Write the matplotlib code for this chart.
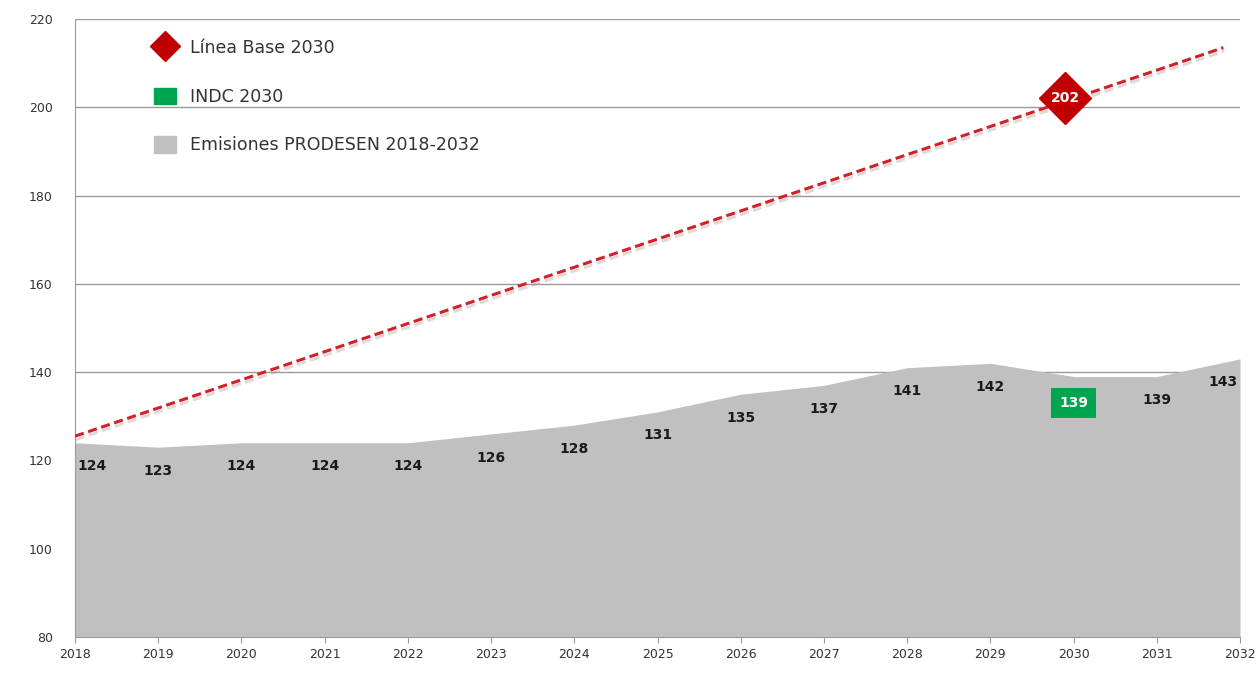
import matplotlib
matplotlib.use("Agg")
import matplotlib.pyplot as plt
import matplotlib.patheffects as pe
from matplotlib.lines import Line2D
from matplotlib.patches import Patch

years = list(range(2018, 2033))
emisiones = [124, 123, 124, 124, 124, 126, 128, 131, 135, 137, 141, 142, 139, 139, 143]
linea_base_years = [2018, 2031.8]
linea_base = [125.5, 213.5]
lb_year, lb_value = 2029.9, 202
indc_year, indc_value = 2030, 139

red = "#c00000"
green = "#00a550"
gray_area = "#c0c0c0"


def main():
    fig = plt.figure(figsize=(12.57, 6.73), dpi=100)
    ax = fig.add_axes([0.0597, 0.0535, 0.9268, 0.9183])

    ax.fill_between(years, 80, emisiones, color=gray_area, lw=0, zorder=2)
    for y in range(100, 221, 20):
        ax.axhline(y, color="#9a9a9a", lw=1, zorder=1)

    ax.plot(linea_base_years, linea_base, color="#d0202a", lw=2.2, ls=(0, (3, 1.5)),
            zorder=4, solid_capstyle="butt",
            path_effects=[pe.SimpleLineShadow(offset=(0.5, -2.5), shadow_color="#b09090", alpha=0.35),
                          pe.Normal()])

    ax.plot([lb_year], [lb_value], marker="D", ms=26, color=red, mec=red, ls="none", zorder=5)
    ax.text(lb_year, lb_value, str(lb_value), color="white", fontsize=10, fontweight="bold",
            ha="center", va="center", zorder=6)

    for i, (x, v) in enumerate(zip(years, emisiones)):
        if x == indc_year:
            continue
        ha = "center"
        dx = 0
        if i == 0:
            dx = 2
            ha = "left"
        elif i == len(years) - 1:
            dx = -2
            ha = "right"
        ax.annotate(str(v), (x, v), xytext=(dx, -17), textcoords="offset points",
                    ha=ha, va="center", fontsize=10, fontweight="bold", color="#1a1a1a", zorder=6)

    ax.annotate(str(indc_value), (indc_year, indc_value), xytext=(0, -19), textcoords="offset points",
                ha="center", va="center", fontsize=10, fontweight="bold", color="white", zorder=6,
                bbox=dict(boxstyle="square,pad=0.6", fc=green, ec="none"))

    ax.set_xlim(2018, 2032)
    ax.set_ylim(80, 220)
    ax.set_xticks(years)
    ax.set_yticks(range(80, 221, 20))
    ax.tick_params(axis="x", length=4, color="#9a9a9a", labelsize=9, labelcolor="#333333", pad=4)
    ax.tick_params(axis="y", length=0, labelsize=9, labelcolor="#333333", pad=16)
    for s in ["top", "right"]:
        ax.spines[s].set_visible(False)
    ax.spines["left"].set_color("#9a9a9a")
    ax.spines["bottom"].set_color("#9a9a9a")
    ax.spines["bottom"].set_zorder(3)

    handles = [
        Line2D([], [], marker="D", color=red, ls="none", ms=15),
        Patch(color=green),
        Patch(color=gray_area),
    ]
    labels = ["Línea Base 2030", "INDC 2030", "Emisiones PRODESEN 2018-2032"]
    ax.legend(handles, labels, loc="upper left", bbox_to_anchor=(0.054, 0.993), frameon=False,
              fontsize=12.5, labelspacing=1.75, handlelength=1.3, handleheight=1.1,
              handletextpad=0.8, labelcolor="#333333")

    fig.savefig("out.png", dpi=100)


if __name__ == "__main__":
    main()
